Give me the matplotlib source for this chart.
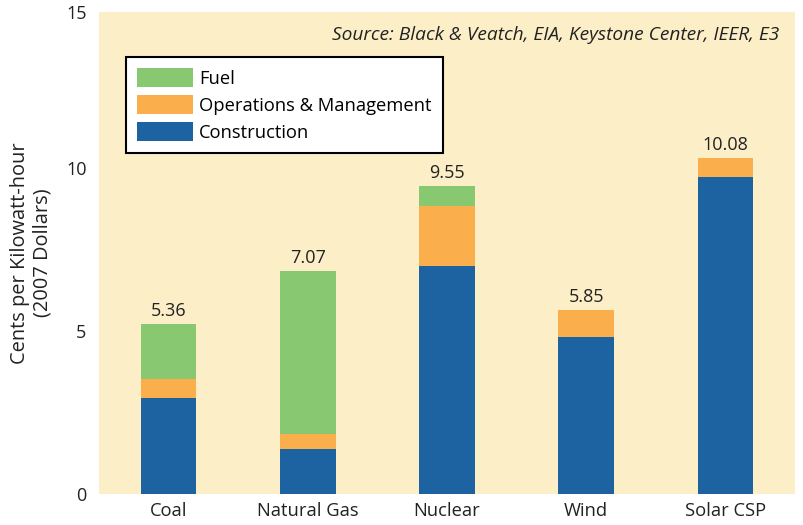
import matplotlib
matplotlib.use("Agg")
import matplotlib.pyplot as plt
import numpy as np

plt.rcParams['font.family'] = ['Open Sans', 'DejaVu Sans']

# data (cents per kWh, 2007 dollars)
sources = ['Coal', 'Natural Gas', 'Nuclear', 'Wind', 'Solar CSP']
construction = [2.95, 1.38, 6.99, 4.82, 9.72]
operations = [0.58, 0.47, 1.84, 0.82, 0.59]
fuel = [1.68, 4.99, 0.62, 0.0, 0.0]
totals = ['5.36', '7.07', '9.55', '5.85', '10.08']

c_fuel = '#88C870'
c_om = '#FBAF4C'
c_con = '#1D62A1'
bg = '#FCEFC8'
txt = '#222222'

fig = plt.figure(figsize=(8.04, 5.25), dpi=100)
ax = fig.add_axes([99/804, 1 - 494/525, (795-99)/804, (494-12)/525])
ax.set_facecolor(bg)

x = np.arange(len(sources))
w = 0.40
con = np.array(construction)
om = np.array(operations)
fu = np.array(fuel)

ax.bar(x, con, w, color=c_con, label='Construction', zorder=3)
ax.bar(x, om, w, bottom=con, color=c_om, label='Operations & Management', zorder=3)
ax.bar(x, fu, w, bottom=con + om, color=c_fuel, label='Fuel', zorder=3)

for xi, top, lab in zip(x, con + om + fu, totals):
    ax.text(xi, top + 0.13, lab, ha='center', va='bottom', fontsize=13, color=txt)

ax.set_xlim(-0.5, 4.5)
ax.set_ylim(0, 14.8)
ax.set_yticks([0, 5, 10, 14.8])
ax.set_yticklabels(['0', '5', '10', '15'])
ax.set_xticks(x)
ax.set_xticklabels(sources, fontsize=13.2, color=txt)
ax.tick_params(axis='y', labelsize=13, labelcolor=txt, length=0, pad=9)
ax.tick_params(axis='x', length=0, pad=6)
ax.set_yticks([5, 10], minor=True)
ax.grid(axis='y', which='minor', color='white', linewidth=2, zorder=1)
for s in ax.spines.values():
    s.set_visible(False)

ax.set_ylabel('Cents per Kilowatt-hour\n(2007 Dollars)', fontsize=14.4, color=txt,
              linespacing=1.15, labelpad=10)

handles, labels = ax.get_legend_handles_labels()
leg = ax.legend(handles[::-1], labels[::-1], loc='upper left', bbox_to_anchor=(0.0388, 0.906),
                fontsize=13.2, frameon=True, fancybox=False, edgecolor='black',
                handlelength=3.06, handleheight=1.15, handletextpad=0.33, labelspacing=0.42,
                borderpad=0.6, borderaxespad=0)
leg.get_frame().set_linewidth(1.5)
leg.get_frame().set_facecolor('white')
leg.get_frame().set_alpha(1)

ax.text(0.977, 0.952, 'Source: Black & Veatch, EIA, Keystone Center, IEER, E3',
        transform=ax.transAxes, ha='right', va='center', fontsize=13.8,
        style='italic', color=txt)

fig.savefig('out.png', dpi=100, facecolor='white')
